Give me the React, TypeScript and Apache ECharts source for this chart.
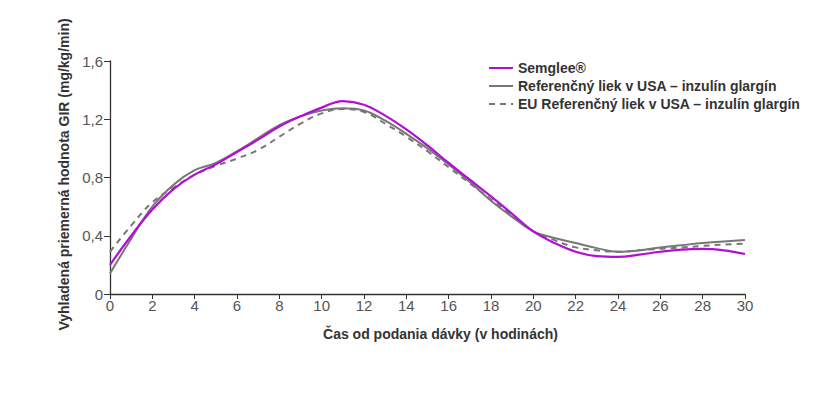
import React, { useEffect, useRef } from "react";
import * as echarts from "echarts";

const hours = [0, 1, 2, 3, 4, 5, 6, 7, 8, 9, 10, 11, 12, 13, 14, 15, 16, 17, 18, 19, 20, 21, 22, 23, 24, 25, 26, 27, 28, 29, 30];
const semglee = [0.2, 0.4, 0.58, 0.72, 0.82, 0.89, 0.975, 1.06, 1.15, 1.22, 1.28, 1.325, 1.3, 1.225, 1.13, 1.02, 0.9, 0.785, 0.67, 0.55, 0.43, 0.35, 0.29, 0.26, 0.255, 0.27, 0.29, 0.305, 0.31, 0.3, 0.275];
const usRef = [0.14, 0.38, 0.6, 0.75, 0.85, 0.9, 0.98, 1.07, 1.16, 1.22, 1.26, 1.275, 1.26, 1.19, 1.1, 1.0, 0.89, 0.77, 0.64, 0.53, 0.43, 0.385, 0.35, 0.315, 0.29, 0.3, 0.32, 0.335, 0.35, 0.36, 0.37];
const euRef = [0.29, 0.47, 0.63, 0.73, 0.82, 0.88, 0.93, 0.99, 1.08, 1.17, 1.24, 1.27, 1.25, 1.17, 1.08, 0.98, 0.87, 0.76, 0.65, 0.54, 0.43, 0.37, 0.32, 0.3, 0.29, 0.3, 0.31, 0.32, 0.33, 0.34, 0.345];
const yTicks = [0, 0.4, 0.8, 1.2, 1.6];

const seriesNames = ["Semglee®", "Referenčný liek v USA – inzulín glargín", "EU Referenčný liek v USA – inzulín glargín"];

export default function App() {
  const ref = useRef<HTMLDivElement>(null);
  useEffect(() => {
    if (!ref.current) return;
    const chart = echarts.init(ref.current, null, { renderer: "svg" });
    const toPairs = (arr: number[]) => hours.map((h, i) => [h, arr[i]]);
    chart.setOption({
      animation: false,
      textStyle: { fontFamily: "Liberation Sans, Arial, sans-serif" },
      grid: { left: 110, right: 76, top: 61, bottom: 103 },
      legend: {
        orient: "vertical",
        left: 483,
        top: 56,
        itemWidth: 24,
        itemHeight: 10,
        itemGap: 4,
        itemStyle: { opacity: 0 },
        textStyle: { fontSize: 14, fontWeight: "bold", color: "#333" },
        data: seriesNames,
      },
      xAxis: {
        type: "value",
        min: 0,
        max: 30,
        interval: 2,
        name: "Čas od podania dávky (v hodinách)",
        nameLocation: "middle",
        nameGap: 33,
        nameTextStyle: { fontSize: 14, fontWeight: "bold", color: "#333", padding: [0, 0, 0, 26] },
        axisLine: { lineStyle: { color: "#333", width: 1.3 } },
        axisTick: { show: true, length: 5, lineStyle: { color: "#333" } },
        axisLabel: { fontSize: 15, color: "#555", margin: 4 },
        splitLine: { show: false },
      },
      yAxis: {
        type: "value",
        min: 0,
        max: 1.6,
        interval: 0.4,
        name: "Vyhladená priemerná hodnota GIR (mg/kg/min)",
        nameLocation: "middle",
        nameGap: 38,
        nameTextStyle: { fontSize: 14, fontWeight: "bold", color: "#333", padding: [0, 0, 0, 6] },
        axisLine: { show: true, lineStyle: { color: "#333", width: 1.3 } },
        axisTick: { show: true, length: 6, lineStyle: { color: "#333" } },
        axisLabel: {
          fontSize: 15,
          color: "#555",
          margin: 7,
          formatter: (v: number) => {
            const t = yTicks.find((x) => Math.abs(x - v) < 1e-6);
            return t === undefined ? "" : t === 0 ? "0" : t.toFixed(1).replace(".", ",");
          },
        },
        splitLine: { show: false },
      },
      series: [
        {
          name: seriesNames[1],
          type: "line",
          data: toPairs(usRef),
          smooth: 0.4,
          symbol: "none",
          lineStyle: { color: "#777", width: 2 },
          itemStyle: { color: "#777" },
          z: 2,
        },
        {
          name: seriesNames[2],
          type: "line",
          data: toPairs(euRef),
          smooth: 0.4,
          symbol: "none",
          lineStyle: { color: "#777", width: 2, type: [6, 5] },
          itemStyle: { color: "#777" },
          z: 2,
        },
        {
          name: seriesNames[0],
          type: "line",
          data: toPairs(semglee),
          smooth: 0.4,
          symbol: "none",
          lineStyle: { color: "#b20fd6", width: 2.2 },
          itemStyle: { color: "#b20fd6" },
          z: 3,
        },
      ],
    });
    return () => chart.dispose();
  }, []);
  return <div ref={ref} style={{ position: "fixed", left: 0, top: 0, width: 821, height: 397, background: "#fff" }} />;
}
